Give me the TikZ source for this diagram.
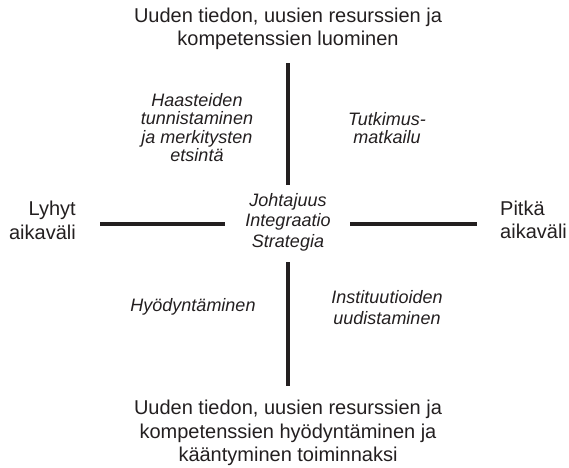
\documentclass[tikz,border=0pt]{standalone}
\usepackage{fontspec}
\setmainfont{Liberation Sans}
\usetikzlibrary{positioning}
\definecolor{ink}{HTML}{231F20}

\begin{document}
\begin{tikzpicture}[x=1pt,y=-1pt,text=ink,
    lab/.style={align=center,inner sep=0pt,font=\fontsize{20}{23.5}\selectfont},
    ital/.style={align=center,inner sep=0pt,font=\fontsize{18}{18.5}\selectfont\itshape},
    axis/.style={draw=ink,line width=3.6pt}]
    \useasboundingbox (0,0) rectangle (569,467);
    \node[lab] (top) at (288,29) {Uuden tiedon, uusien resurssien ja\\kompetenssien luominen};
    \node[lab] (bot) at (288,433) {Uuden tiedon, uusien resurssien ja\\kompetenssien hyödyntäminen ja\\kääntyminen toiminnaksi};
    \node[lab,align=right,anchor=east] (short) at (76,220.5) {Lyhyt\\aikaväli};
    \node[lab,align=left,anchor=west] (long) at (500,220) {Pitkä\\aikaväli};
    \node[ital,font=\fontsize{18}{20.5}\selectfont\itshape] (mid) at (288,222) {Johtajuus\\Integraatio\\Strategia};
    \node[ital] (chal) at (197,127.5) {Haasteiden\\tunnistaminen\\ja merkitysten\\etsintä};
    \node[ital] (trip) at (387,128) {Tutkimus-\\matkailu};
    \node[ital] (use)  at (193,307) {Hyödyntäminen};
    \node[ital,font=\fontsize{18}{21}\selectfont\itshape] (inst) at (387,307.5) {Instituutioiden\\uudistaminen};
    % axis ends
    \coordinate (n1) at (288,63);  \coordinate (n2) at (288,185);
    \coordinate (s1) at (288,262); \coordinate (s2) at (288,386);
    \coordinate (w1) at (100,224); \coordinate (w2) at (225,224);
    \coordinate (e1) at (350,224); \coordinate (e2) at (477,224);
    \draw[axis](n1)--(n2); \draw[axis](s1)--(s2);
    \draw[axis](w1)--(w2); \draw[axis](e1)--(e2);
  \end{tikzpicture}
\end{document}
